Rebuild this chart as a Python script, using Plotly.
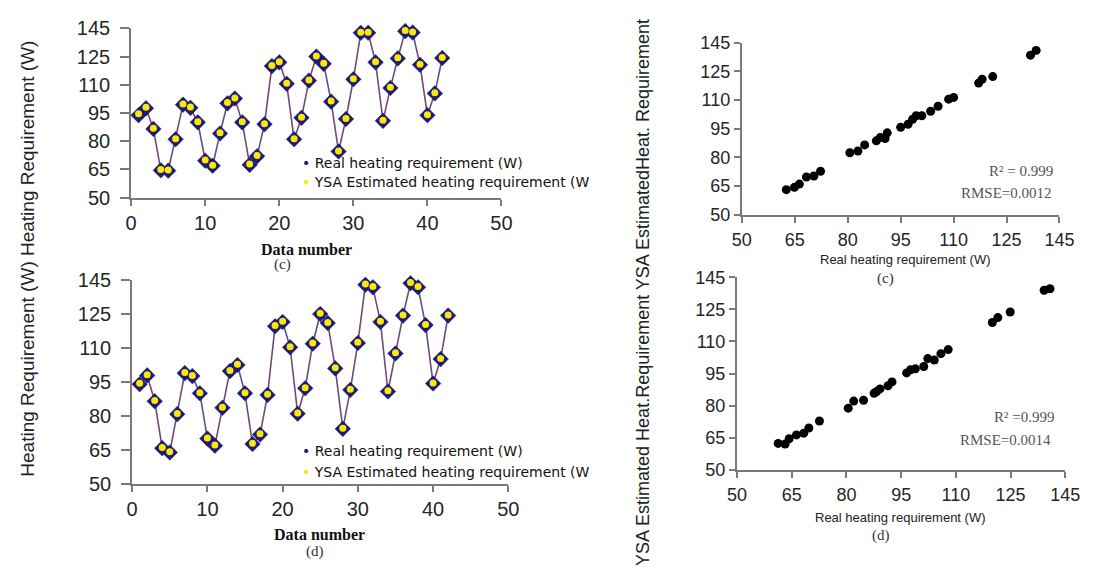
import plotly.graph_objects as go

# ---------------- data ----------------
data_number = list(range(1, 43))

# panel (c) line chart
real_c = [93.8, 97.5, 86.5, 64.5, 64.3, 81.0, 99.4, 97.7, 90.0, 69.6, 66.9, 84.1, 100.1, 102.7,
          90.0, 67.4, 72.0, 89.0, 119.9, 121.9, 110.5, 81.0, 92.4, 112.2, 125.0, 121.1, 101.0,
          74.5, 91.8, 112.9, 137.6, 137.6, 121.9, 90.8, 108.3, 124.0, 138.5, 137.8, 120.6,
          93.8, 105.4, 124.2]
est_c = [94.6, 98.0, 86.8, 64.9, 64.6, 81.3, 99.8, 98.1, 90.3, 70.0, 67.2, 84.4, 100.5, 103.0,
         90.3, 67.8, 72.4, 89.3, 120.2, 122.2, 110.8, 81.3, 92.7, 112.5, 125.3, 121.4, 101.3,
         74.8, 92.1, 113.2, 137.9, 137.9, 122.2, 91.1, 108.6, 124.3, 138.8, 138.1, 120.9,
         94.1, 105.7, 124.5]

# panel (d) line chart
real_d = [94.1, 98.0, 86.6, 65.9, 64.0, 80.9, 99.0, 97.7, 90.1, 70.1, 67.0, 83.7, 99.9, 102.6,
          90.1, 67.7, 71.9, 89.4, 119.7, 121.6, 110.4, 81.1, 92.3, 112.0, 125.1, 121.1, 101.1,
          74.4, 91.6, 112.3, 138.0, 136.9, 121.6, 90.9, 107.7, 124.4, 138.7, 136.9, 120.2,
          94.4, 105.2, 124.4]
est_d = [94.5, 98.3, 86.9, 66.2, 64.3, 81.2, 99.3, 98.0, 90.4, 70.4, 67.3, 84.0, 100.2, 102.9,
         90.4, 68.0, 72.2, 89.7, 120.0, 121.9, 110.7, 81.4, 92.6, 112.3, 125.4, 121.4, 101.4,
         74.7, 91.9, 112.6, 138.3, 137.2, 121.9, 91.2, 108.0, 124.7, 139.0, 137.2, 120.5,
         94.7, 105.5, 124.7]

# panel (c) scatter: real vs estimated
sc_real_c = [62.6, 64.9, 66.3, 68.3, 70.4, 72.3, 80.6, 82.9, 84.8, 88.1, 89.2, 90.6, 91.2, 95.0,
             97.1, 98.4, 99.4, 101.0, 103.5, 105.6, 108.6, 110.0, 117.1, 118.1, 121.1, 131.8, 133.4]
sc_est_c = [63.2, 64.4, 66.1, 69.8, 70.3, 72.8, 82.5, 83.4, 86.6, 88.7, 90.4, 89.9, 92.9, 95.8,
            97.4, 100.0, 101.8, 101.8, 104.2, 106.8, 110.5, 111.4, 118.9, 120.9, 122.3, 133.5, 136.0]

# panel (d) scatter
sc_real_d = [61.3, 63.2, 64.3, 66.3, 68.3, 69.7, 72.6, 80.5, 82.0, 84.7, 87.6, 88.3, 89.2, 91.4,
             92.5, 96.5, 97.6, 98.9, 101.2, 102.3, 104.1, 105.9, 107.9, 120.0, 121.5, 124.9,
             134.2, 135.8]
sc_est_d = [62.3, 62.0, 64.5, 66.3, 67.1, 69.5, 72.8, 78.8, 82.1, 82.5, 85.8, 86.6, 87.8, 89.3,
            91.1, 95.3, 96.8, 97.2, 98.3, 102.0, 101.3, 104.3, 106.2, 118.9, 121.2, 123.8,
            134.0, 134.7]

value_ticks = [50, 65, 80, 95, 110, 125, 140]
value_ticktext = ["50", "65", "80", "95", "110", "125", "145"]
num_ticks = [0, 10, 20, 30, 40, 50]

# ---------------- figure ----------------
W, H = 1093, 574
def px_x(p):
    return p / W
def px_y(p):
    return 1 - p / H

fig = go.Figure()

LINE_COLOR = "#6e4a78"
NAVY = "#1c1c78"
YELLOW = "#ffe800"

for xa, ya, real, est in [("x", "y", real_c, est_c), ("x2", "y2", real_d, est_d)]:
    fig.add_trace(go.Scatter(x=data_number, y=real, xaxis=xa, yaxis=ya, mode="lines+markers",
                             line=dict(color=LINE_COLOR, width=1.6),
                             marker=dict(symbol="diamond", size=12, color=NAVY,
                                         line=dict(color=NAVY, width=0.5)),
                             cliponaxis=False, showlegend=False))
    fig.add_trace(go.Scatter(x=data_number, y=est, xaxis=xa, yaxis=ya, mode="markers",
                             marker=dict(symbol="circle", size=7, color=YELLOW),
                             cliponaxis=False, showlegend=False))

for xa, ya, sx, sy in [("x3", "y3", sc_real_c, sc_est_c), ("x4", "y4", sc_real_d, sc_est_d)]:
    fig.add_trace(go.Scatter(x=sx, y=sy, xaxis=xa, yaxis=ya, mode="markers",
                             marker=dict(symbol="circle", size=9, color="#000000"),
                             cliponaxis=False, showlegend=False))

AX = dict(showline=True, linecolor="#7a7a7a", linewidth=2, ticks="outside",
          tickcolor="#7a7a7a", tickwidth=1.5, showgrid=False, zeroline=False,
          fixedrange=True)

left_tick_font = dict(family="Liberation Sans", size=20, color="#262626")
right_tick_font = dict(family="Liberation Sans", size=18, color="#262626")

layout = dict(
    width=W, height=H, margin=dict(l=0, r=0, t=0, b=0),
    paper_bgcolor="white", plot_bgcolor="white",
    # top-left
    xaxis=dict(AX, domain=[px_x(124), px_x(503)], range=[0, 50], tickvals=num_ticks,
               anchor="y", ticklen=6, tickfont=left_tick_font, ticklabelstandoff=0),
    yaxis=dict(AX, domain=[px_y(194), px_y(18)], range=[50, 140], tickvals=value_ticks,
               ticktext=value_ticktext, anchor="x", ticklen=9, tickfont=left_tick_font,
               ticklabelstandoff=6),
    # bottom-left
    xaxis2=dict(AX, domain=[px_x(125), px_x(510)], range=[0, 50], tickvals=num_ticks,
                anchor="y2", ticklen=6, tickfont=left_tick_font, ticklabelstandoff=0),
    yaxis2=dict(AX, domain=[px_y(492), px_y(280)], range=[50, 140], tickvals=value_ticks,
                ticktext=value_ticktext, anchor="x2", ticklen=9, tickfont=left_tick_font,
                ticklabelstandoff=6),
    # top-right
    xaxis3=dict(AX, domain=[px_x(749), px_x(1074)], range=[50, 140], tickvals=value_ticks,
                ticktext=value_ticktext, anchor="y3", ticklen=6, tickfont=right_tick_font,
                ticklabelstandoff=2),
    yaxis3=dict(AX, domain=[px_y(212), px_y(33)], range=[50, 140], tickvals=value_ticks,
                ticktext=value_ticktext, anchor="x3", ticklen=6, tickfont=right_tick_font,
                ticklabelstandoff=0),
    # bottom-right
    xaxis4=dict(AX, domain=[px_x(744), px_x(1080)], range=[50, 140], tickvals=value_ticks,
                ticktext=value_ticktext, anchor="y4", ticklen=6, tickfont=right_tick_font,
                ticklabelstandoff=2),
    yaxis4=dict(AX, domain=[px_y(477), px_y(277)], range=[50, 140], tickvals=value_ticks,
                ticktext=value_ticktext, anchor="x4", ticklen=6, tickfont=right_tick_font,
                ticklabelstandoff=0),
)
fig.update_layout(**layout)

def ann(text, x, y, size, family="Liberation Sans", color="#222222", angle=0,
        xanchor="center", yanchor="middle", bold=False):
    if bold:
        text = "<b>" + text + "</b>"
    fig.add_annotation(text=text, x=px_x(x), y=px_y(y), xref="paper", yref="paper",
                       showarrow=False, textangle=angle, xanchor=xanchor, yanchor=yanchor,
                       font=dict(family=family, size=size, color=color))

# big rotated y titles
ann("Heating Requirement (W) Heating Requirement (W)", 18, 258, 19, angle=-90)
ann("YSA Estimated Heat.Requirement YSA EstimatedHeat. Requirement", 648, 293, 18, angle=-90)

# left x titles & captions
ann("Data number", 303, 248, 16, family="Liberation Serif", bold=True, color="#111111")
ann("(c)", 279, 264, 15, family="Liberation Serif", color="#333333")
ann("Data number", 317, 544, 16, family="Liberation Serif", bold=True, color="#111111")
ann("(d)", 312, 562, 15, family="Liberation Serif", color="#333333")

# legends (left panels)
leg_font = "DejaVu Sans"
for y1, y2 in [(158, 178), (458, 479)]:
    ann("<span style='color:%s'>•</span> Real heating requirement (W)" % NAVY,
        297, y1, 14, family=leg_font, xanchor="left", color="#111111")
    ann("<span style='color:%s'>•</span> YSA Estimated heating requirement (W" % YELLOW,
        297, y2, 14, family=leg_font, xanchor="left", color="#111111")

# right x titles & captions
ann("Real heating requirement (W)", 916, 258, 13, color="#222222")
ann("(c)", 896, 278, 15, family="Liberation Serif", color="#333333")
ann("Real heating requirement (W)", 911, 527, 13, color="#222222")
ann("(d)", 891, 545, 15, family="Liberation Serif", color="#333333")

# statistics
ann("R² = 0.999", 1069, 166, 15, family="Liberation Serif", color="#555555", xanchor="right")
ann("RMSE=0.0012", 1068, 189, 15, family="Liberation Serif", color="#555555", xanchor="right")
ann("R² =0.999", 1070, 422, 15, family="Liberation Serif", color="#555555", xanchor="right")
ann("RMSE=0.0014", 1067, 446, 15, family="Liberation Serif", color="#555555", xanchor="right")

fig.write_html("out.html")
